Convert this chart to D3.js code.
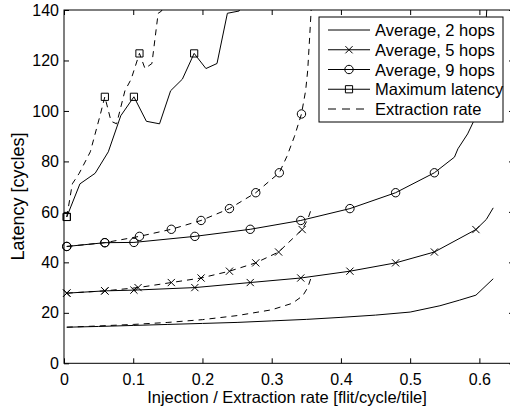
<!DOCTYPE html>
<html>
<head>
<meta charset="utf-8">
<script src="https://cdn.jsdelivr.net/npm/d3@7"></script>
<style>
  html, body { margin: 0; padding: 0; background: #fff; }
  svg { display: block; }
  text { font-family: "Liberation Sans", Arial, Helvetica, sans-serif; fill: #000; }
</style>
</head>
<body>
<svg id="chart" width="510" height="410"></svg>
<script>
// Tick values
const xTicks = [0, 0.1, 0.2, 0.3, 0.4, 0.5, 0.6];
const yTicks = [0, 20, 40, 60, 80, 100, 120, 140];

// Average latency, 2 hops (no markers)
const avg2Inj = [[0.004,14.3],[0.05,14.6],[0.1,15.0],[0.15,15.4],[0.2,15.8],[0.25,16.2],[0.3,16.8],
  [0.35,17.4],[0.4,18.2],[0.45,19.1],[0.5,20.3],[0.543,22.8],[0.571,25.0],[0.595,27.0],[0.62,33.5]];
const avg2Ext = [[0.004,14.3],[0.05,14.8],[0.1,15.4],[0.15,16.2],[0.2,17.3],[0.25,18.9],[0.3,21.2],
  [0.33,23.8],[0.345,26.8],[0.352,30.0],[0.357,34.0]];

// Average latency, 5 hops: marked samples and unmarked curve points
const avg5InjMarks = [[0.004,27.8],[0.059,28.7],[0.101,29.0],[0.189,30.0],[0.269,32.0],[0.342,33.8],
  [0.413,36.5],[0.479,39.8],[0.535,44.1],[0.595,53.0]];
const avg5InjExtra = [[0.61,57.0],[0.62,61.6]];
const avg5ExtMarks = [[0.004,27.8],[0.059,28.7],[0.107,30.0],[0.155,32.0],[0.198,33.8],[0.239,36.5],
  [0.277,39.8],[0.31,44.1],[0.344,53.0]];
const avg5ExtExtra = [[0.352,57.0],[0.357,61.0]];

// Average latency, 9 hops
const avg9InjMarks = [[0.004,46.3],[0.059,47.8],[0.101,47.9],[0.189,50.3],[0.269,53.1],[0.342,56.6],
  [0.413,61.3],[0.479,67.6],[0.535,75.5]];
const avg9InjExtra = [[0.564,81.7],[0.569,85.0],[0.583,90.9],[0.591,95.5],[0.6,105],[0.606,120],[0.613,150]];
const avg9ExtMarks = [[0.004,46.3],[0.059,47.8],[0.109,50.3],[0.155,53.1],[0.198,56.6],[0.239,61.3],
  [0.277,67.6],[0.311,75.5],[0.343,98.8]];
const avg9ExtExtra = [[0.322,82.0],[0.333,90.0],[0.349,108],[0.352,116],[0.355,130],[0.357,140],[0.358,150]];

// Maximum latency
const maxInjMarks = [[0.004,58.0],[0.101,105.6],[0.188,122.8]];
const maxInjExtra = [[0.023,71.1],[0.045,75.3],[0.064,83.8],[0.082,98.1],[0.119,95.9],[0.138,94.9],
  [0.154,108],[0.171,112.6],[0.205,116.8],[0.221,118.8],[0.236,138.7],[0.253,139.6],[0.27,160]];
const maxExtMarks = [[0.004,58.0],[0.059,105.6],[0.109,122.8]];
const maxExtExtra = [[0.012,71.1],[0.022,75.3],[0.038,83.8],[0.052,98.1],[0.068,95.9],[0.076,94.9],
  [0.088,108],[0.097,112.6],[0.117,116.8],[0.127,118.8],[0.136,138.7],[0.141,139.6],[0.15,160]];

const legendLabels = ["Average, 2 hops", "Average, 5 hops", "Average, 9 hops", "Maximum latency", "Extraction rate"];

// Layout
const W = 510, H = 410;
const m = { left: 64, right: 514, top: 10, bottom: 363.3 };
const x = d3.scaleLinear().domain([0, 0.65]).range([m.left, m.right]);
const y = d3.scaleLinear().domain([0, 140]).range([m.bottom, m.top]);

const svg = d3.select("#chart");

svg.append("defs").append("clipPath").attr("id", "plotclip")
  .append("rect").attr("x", m.left).attr("y", m.top)
  .attr("width", m.right - m.left).attr("height", m.bottom - m.top);

// Axes with inward ticks on all four sides
const fmt = d => d3.format("~g")(d);
const axB = svg.append("g").attr("transform", `translate(0,${m.bottom})`)
  .call(d3.axisBottom(x).tickValues(xTicks).tickSizeInner(-5).tickSizeOuter(0).tickPadding(10).tickFormat(fmt));
const axT = svg.append("g").attr("transform", `translate(0,${m.top})`)
  .call(d3.axisTop(x).tickValues(xTicks).tickSizeInner(-5).tickSizeOuter(0).tickFormat(""));
const axL = svg.append("g").attr("transform", `translate(${m.left},0)`)
  .call(d3.axisLeft(y).tickValues(yTicks).tickSizeInner(-5).tickSizeOuter(0).tickPadding(5).tickFormat(fmt));
const axR = svg.append("g").attr("transform", `translate(${m.right},0)`)
  .call(d3.axisRight(y).tickValues(yTicks).tickSizeInner(-5).tickSizeOuter(0).tickFormat(""));
[axB, axT, axL, axR].forEach(g => {
  g.select(".domain").remove();
  g.selectAll("line").attr("stroke", "#000");
  g.selectAll("text").attr("font-size", 16).attr("font-family", "Liberation Sans, Arial, sans-serif").attr("fill", "#000");
});
svg.append("rect").attr("x", m.left).attr("y", m.top)
  .attr("width", m.right - m.left).attr("height", m.bottom - m.top)
  .attr("fill", "none").attr("stroke", "#000").attr("stroke-width", 1);

// Axis titles
svg.append("text").attr("x", 287).attr("y", 403).attr("text-anchor", "middle")
  .attr("font-size", 16.5).text("Injection / Extraction rate [flit/cycle/tile]");
svg.append("text").attr("transform", "translate(18,196.5) rotate(-90)")
  .attr("text-anchor", "middle").attr("dominant-baseline", "central")
  .attr("font-size", 18).text("Latency [cycles]");

// Series
const line = d3.line().x(d => x(d[0])).y(d => y(d[1]));
const byX = (a, b) => a[0] - b[0];
const plot = svg.append("g").attr("clip-path", "url(#plotclip)");
const marks = svg.append("g");
const DASH = "6,5";

function markerPath(type, r) {
  if (type === "x") return `M${-r},${-r}L${r},${r}M${-r},${r}L${r},${-r}`;
  if (type === "o") return `M${r},0A${r},${r} 0 1,1 ${-r},0A${r},${r} 0 1,1 ${r},0Z`;
  if (type === "s") return `M${-r},${-r}H${r}V${r}H${-r}Z`;
  return "";
}
const mSize = { x: 3.6, o: 4.2, s: 3.6 };

const series = [
  { pts: avg2Inj, marks: [], type: null, dashed: false },
  { pts: avg2Ext, marks: [], type: null, dashed: true },
  { pts: avg5InjMarks.concat(avg5InjExtra), marks: avg5InjMarks, type: "x", dashed: false },
  { pts: avg5ExtMarks.concat(avg5ExtExtra), marks: avg5ExtMarks, type: "x", dashed: true },
  { pts: avg9InjMarks.concat(avg9InjExtra), marks: avg9InjMarks, type: "o", dashed: false },
  { pts: avg9ExtMarks.concat(avg9ExtExtra), marks: avg9ExtMarks, type: "o", dashed: true },
  { pts: maxInjMarks.concat(maxInjExtra), marks: maxInjMarks, type: "s", dashed: false },
  { pts: maxExtMarks.concat(maxExtExtra), marks: maxExtMarks, type: "s", dashed: true }
];

series.forEach(s => {
  plot.append("path").datum(s.pts.slice().sort(byX))
    .attr("d", line).attr("fill", "none").attr("stroke", "#000").attr("stroke-width", 1)
    .attr("stroke-dasharray", s.dashed ? DASH : null);
  marks.selectAll(null).data(s.marks).enter().append("path")
    .attr("transform", d => `translate(${x(d[0])},${y(d[1])})`)
    .attr("d", markerPath(s.type, mSize[s.type]))
    .attr("fill", "none").attr("stroke", "#000").attr("stroke-width", 1);
});

// Legend
const lg = svg.append("g");
const lgX = 319, lgY = 17, lgW = 184, lgH = 105, rowH = 19.75;
lg.append("rect").attr("x", lgX).attr("y", lgY).attr("width", lgW).attr("height", lgH)
  .attr("fill", "#fff").attr("stroke", "#000").attr("stroke-width", 1);
const lgTypes = [null, "x", "o", "s", null];
legendLabels.forEach((lab, i) => {
  const cy = 30 + i * rowH;
  lg.append("line").attr("x1", 328).attr("x2", 370).attr("y1", cy).attr("y2", cy)
    .attr("stroke", "#000").attr("stroke-width", 1)
    .attr("stroke-dasharray", i === 4 ? "8,6" : null);
  if (lgTypes[i]) {
    lg.append("path").attr("transform", `translate(349,${cy})`)
      .attr("d", markerPath(lgTypes[i], mSize[lgTypes[i]]))
      .attr("fill", "none").attr("stroke", "#000");
  }
  lg.append("text").attr("x", 375).attr("y", cy).attr("dominant-baseline", "central")
    .attr("font-size", 16.5).text(lab);
});
</script>
</body>
</html>
